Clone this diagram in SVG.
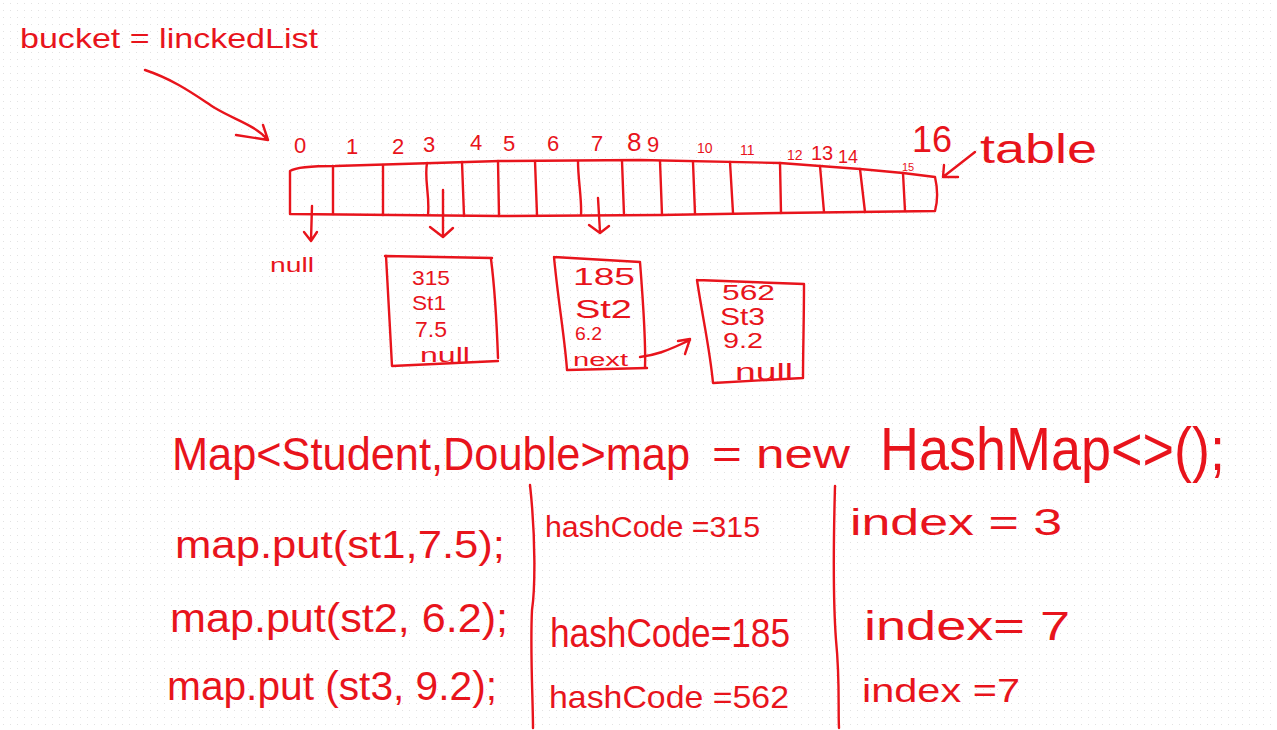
<svg xmlns="http://www.w3.org/2000/svg" width="1277" height="730" viewBox="0 0 1277 730">
<defs>
<pattern id="dots" width="7" height="7" patternUnits="userSpaceOnUse"><rect x="3" y="3" width="1" height="1" fill="#e2e2e2"/></pattern>
<style>
.s{fill:none;stroke:#e8141c;stroke-width:2.4;stroke-linecap:round;stroke-linejoin:round}
.t{fill:#e8141c;font-family:"Liberation Sans","DejaVu Sans",sans-serif}
</style>
</defs>
<rect width="1277" height="730" fill="#ffffff"/>
<rect width="1277" height="730" fill="url(#dots)"/>

<g id="bucket-label">
<text class="t" x="20" y="48" font-size="28" textLength="298" lengthAdjust="spacingAndGlyphs">bucket = linckedList</text>
</g>

<g id="table">
<path class="s" d="M290,171 C296,167 310,166 335,166 L500,161 L640,160 L780,163 L860,169 L903,173 L935,177 C938,190 938,200 935,211 L780,213 L660,215 L500,216 L290,214 Z"/>
<path class="s" d="M333,166 L333,214 M383,165 L383,215 M427,163 C424,180 430,195 428,215 M462,162 L464,216 M498,161 L499,216 M535,161 L537,215 M578,161 C578,180 582,200 581,215 M622,161 L624,215 M660,161 L662,215 M693,162 L695,214 M730,162 L733,213 M780,163 L781,213 M820,166 L824,212 M860,169 L865,212 M903,173 L905,211"/>
<g font-size="22">
<text class="t" x="294" y="153">0</text>
<text class="t" x="346" y="154">1</text>
<text class="t" x="392" y="154">2</text>
<text class="t" x="423" y="152">3</text>
<text class="t" x="470" y="150">4</text>
<text class="t" x="503" y="151">5</text>
<text class="t" x="547" y="151">6</text>
<text class="t" x="591" y="151">7</text>
<text class="t" x="627" y="151" font-size="26">8</text>
<text class="t" x="647" y="152">9</text>
</g>
<g font-size="14">
<text class="t" x="697" y="153">10</text>
<text class="t" x="740" y="155">11</text>
<text class="t" x="787" y="160">12</text>
<text class="t" x="811" y="160" font-size="20">13</text>
<text class="t" x="838" y="163" font-size="18">14</text>
<text class="t" x="902" y="171" font-size="11">15</text>
</g>
<text class="t" x="912" y="152" font-size="36">16</text>
</g>

<g id="table-label">
<text class="t" x="980" y="163" font-size="40" textLength="117" lengthAdjust="spacingAndGlyphs">table</text>
</g>

<g id="null0">
<text class="t" x="270" y="272" font-size="20" textLength="44" lengthAdjust="spacingAndGlyphs">null</text>
</g>

<g id="node1">
<path class="s" d="M385,256 L492,258 M491,259 C495,290 497,330 498,358 M392,366 L498,361 M386,256 C388,290 390,330 392,366"/>
<text class="t" x="412" y="285" font-size="21" textLength="38" lengthAdjust="spacingAndGlyphs">315</text>
<text class="t" x="412" y="310" font-size="21" textLength="34" lengthAdjust="spacingAndGlyphs">St1</text>
<text class="t" x="415" y="337" font-size="22" textLength="32" lengthAdjust="spacingAndGlyphs">7.5</text>
<text class="t" x="420" y="362" font-size="20" textLength="50" lengthAdjust="spacingAndGlyphs">null</text>
</g>

<g id="node2">
<path class="s" d="M554,257 L640,262 M640,262 C643,300 646,340 645,368 M567,370 L647,368 M554,257 C558,300 565,340 567,370"/>
<text class="t" x="573" y="285" font-size="24" textLength="62" lengthAdjust="spacingAndGlyphs">185</text>
<text class="t" x="575" y="318" font-size="26" textLength="57" lengthAdjust="spacingAndGlyphs">St2</text>
<text class="t" x="575" y="340" font-size="19" textLength="27" lengthAdjust="spacingAndGlyphs">6.2</text>
<text class="t" x="573" y="366" font-size="18" textLength="55" lengthAdjust="spacingAndGlyphs">next</text>
</g>

<g id="node3">
<path class="s" d="M697,280 L804,284 M804,284 C804,320 803,350 803,378 M713,383 L803,378 M697,280 C703,320 710,350 713,383"/>
<text class="t" x="722" y="300" font-size="22" textLength="53" lengthAdjust="spacingAndGlyphs">562</text>
<text class="t" x="720" y="325" font-size="24" textLength="45" lengthAdjust="spacingAndGlyphs">St3</text>
<text class="t" x="723" y="348" font-size="22" textLength="40" lengthAdjust="spacingAndGlyphs">9.2</text>
<text class="t" x="735" y="380" font-size="24" textLength="58" lengthAdjust="spacingAndGlyphs">null</text>
</g>

<g id="connectors">
<path class="s" d="M145,70 C175,80 195,95 215,108 C235,120 255,125 268,140 M236,135 L268,140 L263,125"/>
<path class="s" d="M975,152 L943,177 M944,165 L943,177 L958,177"/>
<path class="s" d="M312,206 L311,240 M304,232 L311,241 L317,232"/>
<path class="s" d="M443,190 L443,236 M430,227 L443,237 L453,228"/>
<path class="s" d="M598,198 L600,232 M589,225 L600,233 L609,226"/>
<path class="s" d="M640,357 C655,355 665,352 690,340 M678,341 L690,339 L685,354"/>
</g>

<g id="declaration">
<text class="t" x="172" y="470" font-size="46" textLength="518" lengthAdjust="spacingAndGlyphs">Map&lt;Student,Double&gt;map</text>
<text class="t" x="712" y="468" font-size="40" textLength="138" lengthAdjust="spacingAndGlyphs">= new</text>
<text class="t" x="880" y="470" font-size="62" textLength="345" lengthAdjust="spacingAndGlyphs">HashMap&lt;&gt;();</text>
</g>

<g id="dividers">
<path class="s" d="M530,485 C536,540 535,590 532,610 C530,650 533,700 533,728"/>
<path class="s" d="M835,486 C833,560 833,600 836,640 C840,680 838,710 839,728"/>
</g>

<g id="puts">
<text class="t" x="175" y="558" font-size="38" textLength="330" lengthAdjust="spacingAndGlyphs">map.put(st1,7.5);</text>
<text class="t" x="170" y="632" font-size="40" textLength="338" lengthAdjust="spacingAndGlyphs">map.put(st2, 6.2);</text>
<text class="t" x="167" y="700" font-size="40" textLength="330" lengthAdjust="spacingAndGlyphs">map.put (st3, 9.2);</text>
</g>

<g id="hashcodes">
<text class="t" x="545" y="537" font-size="30" textLength="215" lengthAdjust="spacingAndGlyphs">hashCode =315</text>
<text class="t" x="550" y="647" font-size="40" textLength="240" lengthAdjust="spacingAndGlyphs">hashCode=185</text>
<text class="t" x="549" y="708" font-size="32" textLength="240" lengthAdjust="spacingAndGlyphs">hashCode =562</text>
</g>

<g id="indexes">
<text class="t" x="850" y="535" font-size="36" textLength="212" lengthAdjust="spacingAndGlyphs">index = 3</text>
<text class="t" x="864" y="640" font-size="40" textLength="206" lengthAdjust="spacingAndGlyphs">index= 7</text>
<text class="t" x="862" y="702" font-size="34" textLength="158" lengthAdjust="spacingAndGlyphs">index =7</text>
</g>
</svg>
